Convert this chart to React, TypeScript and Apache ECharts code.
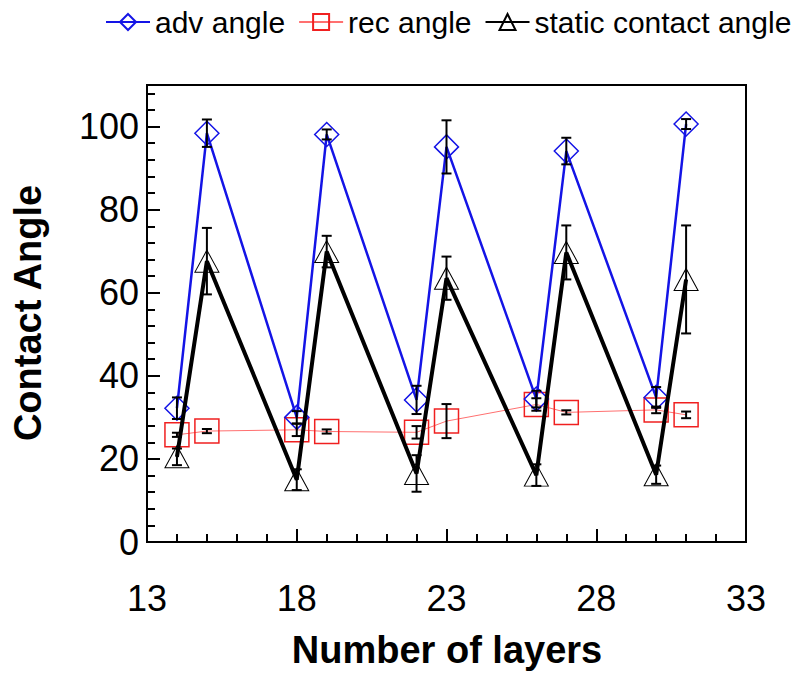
import React, { useEffect, useRef } from "react";
import * as echarts from "echarts";

const layers = [14, 15, 18, 19, 22, 23, 26, 27, 30, 31];
const advAngle = [32.2, 98.4, 30.0, 98.1, 34.2, 95.1, 34.4, 94.1, 34.8, 100.6];
const advErr = [2.6, 3.3, 1.5, 1.2, 3.4, 6.4, 2.0, 3.2, 2.5, 1.2];
const recAngle = [25.8, 26.7, 27.0, 26.6, 26.4, 29.1, 33.1, 31.2, 31.8, 30.6];
const recErr = [0.5, 0.5, 1.5, 0.5, 1.5, 4.1, 1.5, 0.5, 0.8, 0.8];
const staticAngle = [20.5, 67.6, 15.0, 69.9, 16.5, 63.5, 16.1, 69.7, 16.2, 63.2];
const staticErr = [2.0, 8.0, 2.5, 3.8, 4.4, 5.2, 2.6, 6.5, 2.2, 13.0];

const FONT = "'Liberation Sans', Arial, Helvetica, sans-serif";

export default function App() {
  const ref = useRef<HTMLDivElement>(null);
  useEffect(() => {
    document.body.style.margin = "0";
    if (!ref.current) return;
    const chart = echarts.init(ref.current, null, { renderer: "svg" });
    const pts = (vals: number[]) => layers.map((x, i) => [x, vals[i]]);
    const errs = (vals: number[], e: number[]) =>
      layers.map((x, i) => [x, vals[i] - e[i], vals[i] + e[i]]);
    const errSeries = (name: string, data: number[][]) => ({
      type: "custom",
      name,
      data,
      z: 5,
      encode: { x: 0, y: [1, 2] },
      renderItem: (params: any, api: any) => {
        const x = api.value(0);
        const top = api.coord([x, api.value(2)]);
        const bot = api.coord([x, api.value(1)]);
        const w = 5;
        const st = { stroke: "#000", lineWidth: 2 };
        return {
          type: "group",
          children: [
            { type: "line", shape: { x1: top[0], y1: top[1], x2: bot[0], y2: bot[1] }, style: st },
            { type: "line", shape: { x1: top[0] - w, y1: top[1], x2: top[0] + w, y2: top[1] }, style: st },
            { type: "line", shape: { x1: bot[0] - w, y1: bot[1], x2: bot[0] + w, y2: bot[1] }, style: st },
          ],
        };
      },
    });
    chart.setOption({
      animation: false,
      backgroundColor: "#fff",
      textStyle: { fontFamily: FONT },
      legend: {
        data: ["adv angle", "rec angle", "static contact angle"],
        top: 2,
        left: 100,
        itemWidth: 44,
        itemHeight: 20,
        itemGap: 13,
        textStyle: { fontSize: 30, color: "#000", fontFamily: FONT },
      },
      grid: {
        left: 147,
        right: 54,
        top: 85,
        bottom: 139,
        show: true,
        borderColor: "#000",
        borderWidth: 2,
        backgroundColor: "transparent",
      },
      xAxis: {
        type: "value",
        min: 13,
        max: 33,
        interval: 5,
        axisLine: { show: true, lineStyle: { color: "#000", width: 2 } },
        axisTick: { show: true, inside: true, length: 13, lineStyle: { color: "#000", width: 2 } },
        minorTick: { show: true, splitNumber: 5, length: 8, lineStyle: { color: "#000", width: 2 } },
        splitLine: { show: false },
        axisLabel: { fontSize: 36, color: "#000", margin: 38, fontFamily: FONT },
      },
      yAxis: [
        {
          type: "value",
          min: 0,
          max: 110,
          interval: 20,
          axisLine: { show: true, lineStyle: { color: "#000", width: 2 } },
          axisTick: { show: true, inside: true, length: 13, lineStyle: { color: "#000", width: 2 } },
          splitLine: { show: false },
          axisLabel: { fontSize: 36, color: "#000", margin: 8, showMaxLabel: false, fontFamily: FONT },
        },
        {
          type: "value",
          min: 0,
          max: 110,
          interval: 4,
          position: "left",
          axisLine: { show: false },
          axisTick: { show: true, inside: true, length: 8, lineStyle: { color: "#000", width: 2 } },
          splitLine: { show: false },
          axisLabel: { show: false },
        },
      ],
      graphic: [
        {
          type: "text",
          x: 28,
          y: 313,
          rotation: Math.PI / 2,
          style: {
            text: "Contact Angle",
            font: `bold 38px ${FONT}`,
            fill: "#000",
            align: "center",
            verticalAlign: "middle",
          },
        },
        {
          type: "text",
          x: 447,
          y: 650,
          style: {
            text: "Number of layers",
            font: `bold 38px ${FONT}`,
            fill: "#000",
            align: "center",
            verticalAlign: "middle",
          },
        },
      ],
      series: [
        {
          name: "adv angle",
          type: "line",
          data: pts(advAngle),
          symbol: "diamond",
          symbolSize: [24, 24],
          lineStyle: { color: "#1414e6", width: 2.5 },
          itemStyle: { color: "transparent", borderColor: "#1414e6", borderWidth: 1.5 },
          z: 3,
        },
        {
          name: "rec angle",
          type: "line",
          data: pts(recAngle),
          symbol: "rect",
          symbolSize: [24, 24],
          lineStyle: { color: "#ff7070", width: 1 },
          itemStyle: { color: "transparent", borderColor: "#f02020", borderWidth: 1.5 },
          z: 2,
        },
        {
          name: "static contact angle",
          type: "line",
          data: pts(staticAngle),
          symbol: "triangle",
          symbolSize: [24, 22],
          lineStyle: { color: "#000", width: 4 },
          itemStyle: { color: "transparent", borderColor: "#000", borderWidth: 1 },
          z: 4,
        },
        errSeries("adv err", errs(advAngle, advErr)),
        errSeries("rec err", errs(recAngle, recErr)),
        errSeries("static err", errs(staticAngle, staticErr)),
      ],
    });
    return () => chart.dispose();
  }, []);
  return <div ref={ref} style={{ width: 800, height: 681 }} />;
}
